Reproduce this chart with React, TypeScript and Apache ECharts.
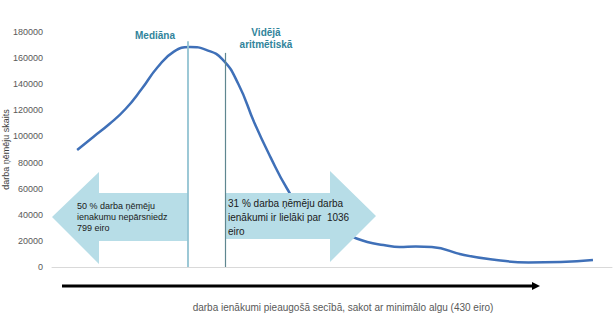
import React, { useEffect, useRef } from "react";
import * as echarts from "echarts";

// Position along the earnings ordering
const steps = [0, 0.5, 1, 1.5, 2, 2.5, 3, 3.5, 4, 4.5, 5, 5.5, 6, 6.5, 7, 7.5, 8, 8.5, 9, 9.5, 10, 10.5, 11, 12, 13, 14, 15, 16];
// Number of employees at each position
const workers = [89600, 99600, 109500, 121000, 136300, 153200, 165000, 168500, 166300, 159300, 140200, 110300, 84000, 60500, 42900, 34500, 28300, 23400, 19150, 16900, 15300, 15700, 15300, 9200, 5400, 3450, 3800, 5400];
// Positions of median and mean on the ordering, with the heights of their marker lines
const medianPos = 3.44;
const medianTop = 173000;
const meanPos = 4.59;
const meanTop = 164000;
const yTicks = [0, 20000, 40000, 60000, 80000, 100000, 120000, 140000, 160000, 180000];

const FONT = "Liberation Sans, Arial, sans-serif";

export default function App() {
  const ref = useRef<HTMLDivElement>(null);
  useEffect(() => {
    if (!ref.current) return;
    const chart = echarts.init(ref.current, null, { renderer: "svg" });
    const option = {
      animation: false,
      backgroundColor: "#ffffff",
      grid: { left: 52, right: 1, top: 32, bottom: 61, containLabel: false, outerBoundsMode: "none" },
      xAxis: {
        type: "value",
        min: -0.78,
        max: 16.59,
        axisLine: { show: true, lineStyle: { color: "#d9d9d9", width: 1 } },
        axisTick: { show: false },
        axisLabel: { show: false },
        splitLine: { show: false },
      },
      yAxis: {
        type: "value",
        min: yTicks[0],
        max: yTicks[yTicks.length - 1],
        interval: 20000,
        axisLine: { show: false },
        axisTick: { show: false },
        splitLine: { show: false },
        axisLabel: {
          fontSize: 9,
          color: "#595959",
          margin: 9,
          fontFamily: FONT,
          formatter: (v: number) => String(v),
        },
        name: "darba ņēmēju skaits",
        nameLocation: "middle",
        nameGap: 42,
        nameMoveOverlap: false,
        nameTextStyle: { fontSize: 9, color: "#404040", fontFamily: FONT },
      },
      series: [
        {
          type: "line",
          data: steps.map((s, i) => [s, workers[i]]),
          smooth: 0.5,
          showSymbol: false,
          symbol: "none",
          lineStyle: { color: "#3f70b8", width: 2.5 },
          z: 2,
        },
        {
          type: "line",
          data: [],
          z: 20,
          markLine: {
            silent: true,
            symbol: "none",
            label: { show: false },
            data: [
              [
                { coord: [medianPos, medianTop], lineStyle: { color: "#92c3d2", width: 1.8, type: "solid" } },
                { coord: [medianPos, 0] },
              ],
              [
                { coord: [meanPos, meanTop], lineStyle: { color: "#5f8790", width: 1.2, type: "solid" } },
                { coord: [meanPos, 0] },
              ],
            ],
          },
        },
      ],
      graphic: [
        {
          type: "polygon",
          z: 5,
          shape: { points: [[52, 217], [99, 172], [99, 193], [188, 193], [188, 241], [99, 241], [99, 264]] },
          style: { fill: "#b7dde7" },
        },
        {
          type: "polygon",
          z: 5,
          shape: { points: [[226, 193], [330, 193], [330, 171], [376, 216], [330, 262], [330, 239], [226, 239]] },
          style: { fill: "#b7dde7" },
        },
        {
          type: "text",
          z: 6,
          x: 77,
          y: 201,
          style: {
            text: "50 % darba ņēmēju\nienakumu nepārsniedz\n799 eiro",
            fontSize: 9,
            lineHeight: 10.7,
            fill: "#1a1a1a",
            fontFamily: FONT,
          },
        },
        {
          type: "text",
          z: 6,
          x: 228,
          y: 196,
          style: {
            text: "31 % darba ņēmēju darba\nienākumi ir lielāki par  1036\neiro",
            fontSize: 10,
            lineHeight: 14,
            fill: "#1a1a1a",
            fontFamily: FONT,
          },
        },
        {
          type: "text",
          z: 6,
          x: 155,
          y: 35,
          style: {
            text: "Mediāna",
            fontSize: 10,
            fontWeight: "bold",
            fill: "#31849b",
            align: "center",
            verticalAlign: "middle",
            fontFamily: FONT,
          },
        },
        {
          type: "text",
          z: 6,
          x: 266,
          y: 26,
          style: {
            text: "Vidējā\naritmētiskā",
            fontSize: 10,
            fontWeight: "bold",
            fill: "#31849b",
            align: "center",
            lineHeight: 12,
            fontFamily: FONT,
          },
        },
        {
          type: "line",
          z: 6,
          shape: { x1: 62, y1: 286, x2: 534, y2: 286 },
          style: { stroke: "#000000", lineWidth: 3 },
        },
        {
          type: "polygon",
          z: 6,
          shape: { points: [[532, 282], [540, 286], [532, 290]] },
          style: { fill: "#000000" },
        },
        {
          type: "text",
          z: 6,
          x: 343,
          y: 307,
          style: {
            text: "darba ienākumi pieaugošā secībā, sakot ar minimālo algu (430 eiro)",
            fontSize: 10,
            fill: "#595959",
            align: "center",
            verticalAlign: "middle",
            fontFamily: FONT,
          },
        },
      ],
    };
    chart.setOption(option as any);
    return () => chart.dispose();
  }, []);
  return (
    <div
      ref={ref}
      style={{ position: "fixed", left: 0, top: 0, width: 613, height: 328 }}
    />
  );
}
